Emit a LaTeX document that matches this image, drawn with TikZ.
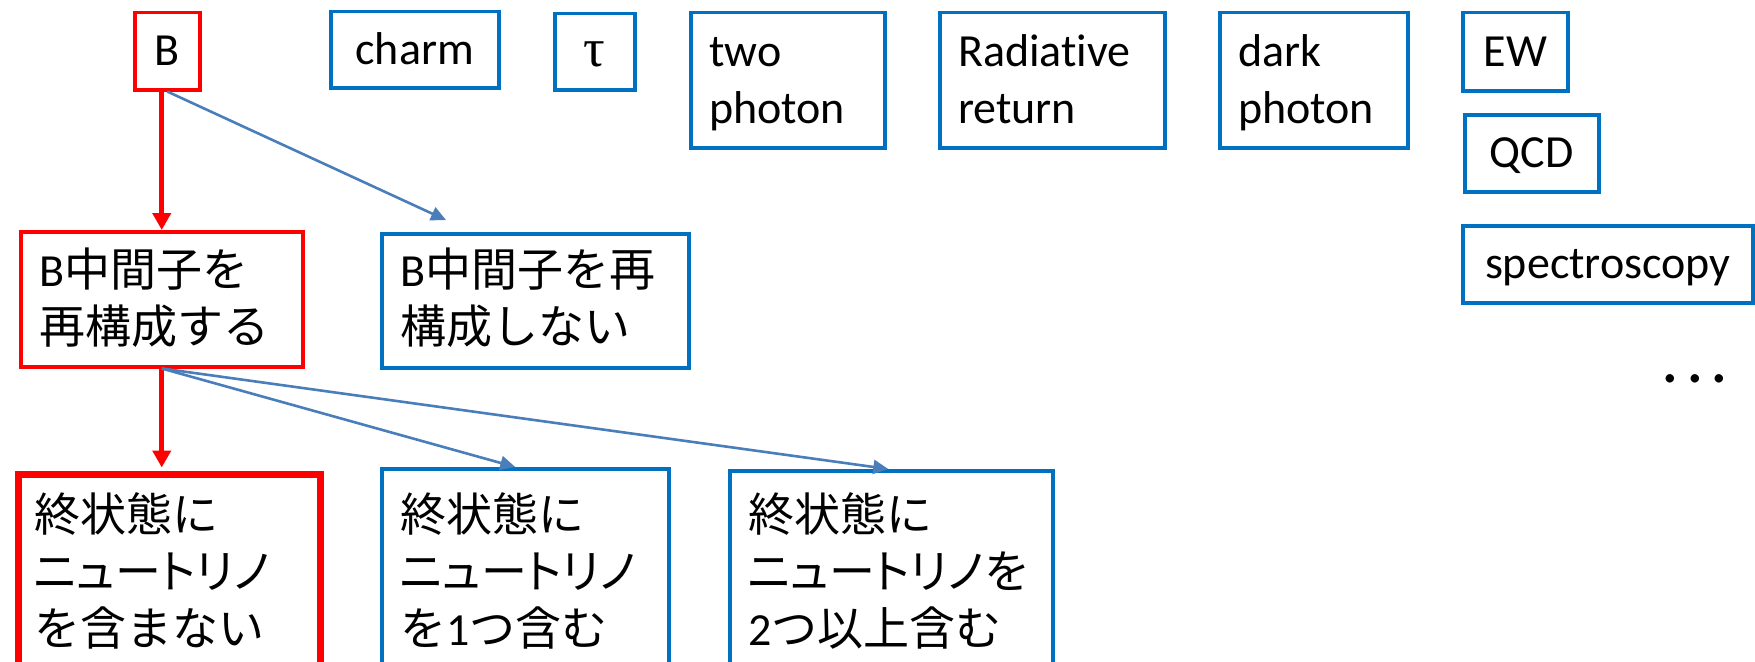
\documentclass[tikz,border=0pt]{standalone}
\usepackage{fontspec}
\setmainfont{Carlito}[Ligatures=NoCommon]
\newfontfamily\jp{Noto Sans CJK JP}
\newfontfamily\jpk[RawFeature=+palt]{Noto Sans CJK JP}
\newfontfamily\grk{Liberation Serif}
\usetikzlibrary{arrows.meta,calc}
\definecolor{boxblue}{HTML}{0070C0}
\definecolor{arrblue}{HTML}{4A7EBB}
\definecolor{boxred}{HTML}{FF0000}
\begin{document}
\begin{tikzpicture}[x=1pt,y=-1pt,
  basebox/.style={draw, inner sep=0pt, anchor=north west, text=black, font=\fontsize{46}{57}\selectfont},
  bluebox/.style={basebox, draw=boxblue, line width=3.5pt},
  redbox/.style={basebox, draw=boxred, line width=3.5pt},
  thickred/.style={basebox, draw=boxred, line width=7pt},
  oneline/.style={text height=29pt, text depth=0pt},
  txt/.style={anchor=north west, inner sep=0pt, align=left, font=\fontsize{46}{57}\selectfont},
  barrow/.style={draw=arrblue, line width=2.6pt, -{Triangle[length=15pt,width=14pt]}},
  rarrow/.style={draw=boxred, line width=5pt, -{Triangle[length=17pt,width=18pt]}}
]
\useasboundingbox (0,0) rectangle (1755,661);

% top row
\node[redbox, oneline, minimum width=65pt, minimum height=77pt] (B) at (133,11) {B};
\node[bluebox, oneline, minimum width=168pt, minimum height=76pt] (charm) at (329,10) {charm};
\node[bluebox, oneline, minimum width=80pt, minimum height=76pt] (tau) at (553,12) {{\grk\fontsize{54}{57}\selectfont τ}\hspace{22pt}};
\node[bluebox, minimum width=194pt, minimum height=135pt] (twophoton) at (689,11) {};
\node[txt] (ttwophoton) at (709,26.1) {\strut two\\photon};
\node[bluebox, minimum width=225pt, minimum height=135pt] (radiative) at (938,11) {};
\node[txt] (tradiative) at (958,26.1) {\strut Radiative\\return};
\node[bluebox, minimum width=188pt, minimum height=135pt] (dark) at (1218,11) {};
\node[txt] (tdark) at (1238,26.1) {\strut dark\\photon};
\node[bluebox, oneline, minimum width=105pt, minimum height=78pt] (EW) at (1461,11) {EW};
\node[bluebox, oneline, minimum width=134pt, minimum height=77pt] (QCD) at (1463,113) {QCD};
\node[bluebox, oneline, minimum width=290pt, minimum height=77pt] (spec) at (1461,224) {spectroscopy};
\node[anchor=base, inner sep=0pt, font=\fontsize{70}{70}\selectfont] (dots) at (1695,382) {.\kern7pt.\kern7pt.};

% second row
\node[redbox, minimum width=282pt, minimum height=135pt] (reco) at (19,230) {};
\node[txt] (treco) at (39,246.1) {\strut B{\jp 中間子を}\\{\jp 再構成する}};
\node[bluebox, minimum width=307pt, minimum height=134pt] (noreco) at (380,232) {};
\node[txt] (tnoreco) at (400,246.1) {\strut B{\jp 中間子を再}\\{\jp 構成しない}};

% third row
\node[thickred, minimum width=302pt, minimum height=300pt] (nonu) at (14.5,470.5) {};
\node[txt] (tnonu) at (34,491.1) {\strut{\jp 終状態に}\\{\jpk ニュートリノ}\\{\jp を含まない}};
\node[bluebox, minimum width=287pt, minimum height=300pt] (onenu) at (380,467) {};
\node[txt] (tonenu) at (400,491.1) {\strut{\jp 終状態に}\\{\jpk ニュートリノ}\\{\jp を}1{\jp つ含む}};
\node[bluebox, minimum width=323pt, minimum height=300pt] (twonu) at (728,469) {};
\node[txt] (ttwonu) at (748,491.1) {\strut{\jp 終状態に}\\{\jpk ニュートリノ}{\jp を}\\2{\jp つ以上含む}};

% connectors
\draw[rarrow] (reco.north |- B.south) -- (reco.north);
\draw[barrow] (B.south) -- ($(noreco.north west)+(66,-12)$);
\draw[rarrow] (reco.south) -- ($(reco.south |- nonu.north)+(0,-3)$);
\draw[barrow] (reco.south) -- ($(onenu.north)+(-10,0)$);
\draw[barrow] (reco.south) -- ($(twonu.north)+(-3,0)$);
\end{tikzpicture}
\end{document}
